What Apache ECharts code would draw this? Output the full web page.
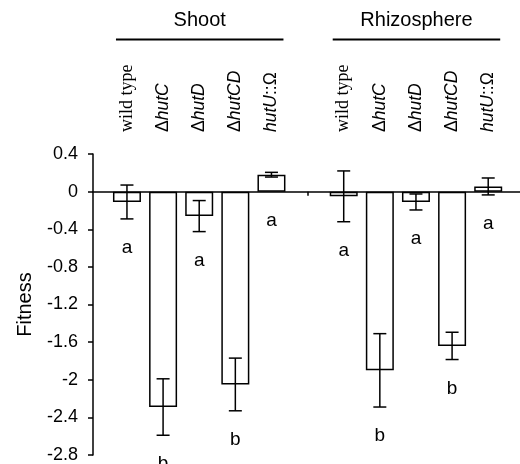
<!DOCTYPE html>
<html><head><meta charset="utf-8">
<script src="https://cdn.jsdelivr.net/npm/echarts@6/dist/echarts.min.js"></script>
<style>html,body{margin:0;padding:0;background:#fff}#c{width:520px;height:464px}</style>
</head><body><div id="c"></div>
<script>
// ---- data ----
const categories = ['wild type','ΔhutC','ΔhutD','ΔhutCD','hutU::Ω','','wild type','ΔhutC','ΔhutD','ΔhutCD','hutU::Ω'];
const groups = ['Shoot','Rhizosphere'];
const groupRanges = [[0,4],[6,10]];
const fitness = [-0.11,-2.29,-0.26,-2.05,0.18,null,-0.05,-1.90,-0.11,-1.64,0.055];
const errors  = [0.18,0.30,0.165,0.28,0.025,null,0.27,0.39,0.085,0.145,0.09];
const letters = ['a','b','a','b','a','','a','b','a','b','a'];
const yTicks = [0.4,0,-0.4,-0.8,-1.2,-1.6,-2,-2.4,-2.8];

const SANS = '"Liberation Sans", Arial, sans-serif';
const SERIF = '"Liberation Serif", "Times New Roman", serif';

function richName(n){
  if (n === 'wild type') return '{s|wild type}';
  if (n.startsWith('Δ')) return '{n|Δ}{i|' + n.slice(1) + '}';
  if (n.indexOf('::') >= 0) { const p = n.split('::'); return '{i|' + p[0] + '}{n|::' + p[1] + '}'; }
  return n;
}

const idx = categories.map((c,i)=>i);
const barData = [], errData = [];
fitness.forEach((v,i)=>{ if (v !== null) { barData.push([i, v]); errData.push([i, v, errors[i]]); } });

const chart = echarts.init(document.getElementById('c'), null, {renderer:'canvas'});
const XMIN = -0.94, XMAX = 10.88;
chart.setOption({
  animation:false,
  backgroundColor:'#fff',
  grid:{left:93, right:0, top:154, bottom:9, containLabel:false},
  xAxis:[{
    type:'value', min:XMIN, max:XMAX, position:'bottom',
    axisLine:{show:true, onZero:true, lineStyle:{color:'#000', width:1.5}},
    axisTick:{show:true, customValues:[5], length:4, lineStyle:{color:'#000', width:1.5}},
    axisLabel:{show:false}, splitLine:{show:false}
  },{
    type:'value', min:XMIN, max:XMAX, position:'top', offset:22,
    axisLine:{show:false, onZero:false}, axisTick:{show:false}, splitLine:{show:false},
    axisLabel:{show:true, customValues: idx.filter(i=>categories[i] !== ''), rotate:-90, margin:0,
      formatter:(v)=>richName(categories[Math.round(v)]),
      rich:{
        s:{fontFamily:SERIF, fontSize:18, color:'#000'},
        n:{fontFamily:SANS, fontSize:17.5, color:'#000'},
        i:{fontFamily:SANS, fontSize:17.5, fontStyle:'italic', color:'#000'}
      }}
  }],
  yAxis:{
    type:'value', min:-2.8, max:0.4, interval:0.4,
    name:'Fitness', nameLocation:'middle', nameGap:58, nameRotate:90,
    nameTextStyle:{fontFamily:SANS, fontSize:20, color:'#000'},
    axisLine:{show:true, onZero:false, lineStyle:{color:'#000', width:1.5}},
    axisTick:{show:true, length:5, lineStyle:{color:'#000', width:1.5}},
    axisLabel:{margin:15, fontFamily:SANS, fontSize:18, color:'#000',
      formatter:(v)=>String(Number(v.toFixed(1)))},
    splitLine:{show:false}
  },
  series:[{
    type:'bar', xAxisIndex:0, data:barData, barWidth:28,
    itemStyle:{color:'#fff', borderColor:'#000', borderWidth:1.5}
  },{
    type:'custom', xAxisIndex:0, data:errData, z:5,
    renderItem:(params, api)=>{
      const x = api.value(0), m = api.value(1), e = api.value(2);
      const t = api.coord([x, m+e]), b = api.coord([x, m-e]);
      const base = api.coord([x, Math.min(m-e, 0)]);
      const cap = 6.5, st = {stroke:'#000', lineWidth:1.5};
      return {type:'group', children:[
        {type:'line', shape:{x1:t[0],y1:t[1],x2:b[0],y2:b[1]}, style:st},
        {type:'line', shape:{x1:t[0]-cap,y1:t[1],x2:t[0]+cap,y2:t[1]}, style:st},
        {type:'line', shape:{x1:b[0]-cap,y1:b[1],x2:b[0]+cap,y2:b[1]}, style:st},
        {type:'text', x:base[0], y:base[1]+29, style:{text:letters[x], fontFamily:SANS, fontSize:19, fill:'#000', align:'center', verticalAlign:'middle'}}
      ]};
    }
  },{
    type:'custom', xAxisIndex:0, data:groupRanges.map((r,k)=>[r[0], r[1], k]), z:5,
    renderItem:(params, api)=>{
      const a = api.coord([api.value(0), 0]), c = api.coord([api.value(1), 0]);
      const x1 = a[0]-11, x2 = c[0]+12;
      return {type:'group', children:[
        {type:'line', shape:{x1:x1,y1:39.5,x2:x2,y2:39.5}, style:{stroke:'#000', lineWidth:2}},
        {type:'text', x:(x1+x2)/2, y:20, style:{text:groups[api.value(2)], fontFamily:SANS, fontSize:20, fill:'#000', align:'center', verticalAlign:'middle'}}
      ]};
    }
  }]
});
</script></body></html>
